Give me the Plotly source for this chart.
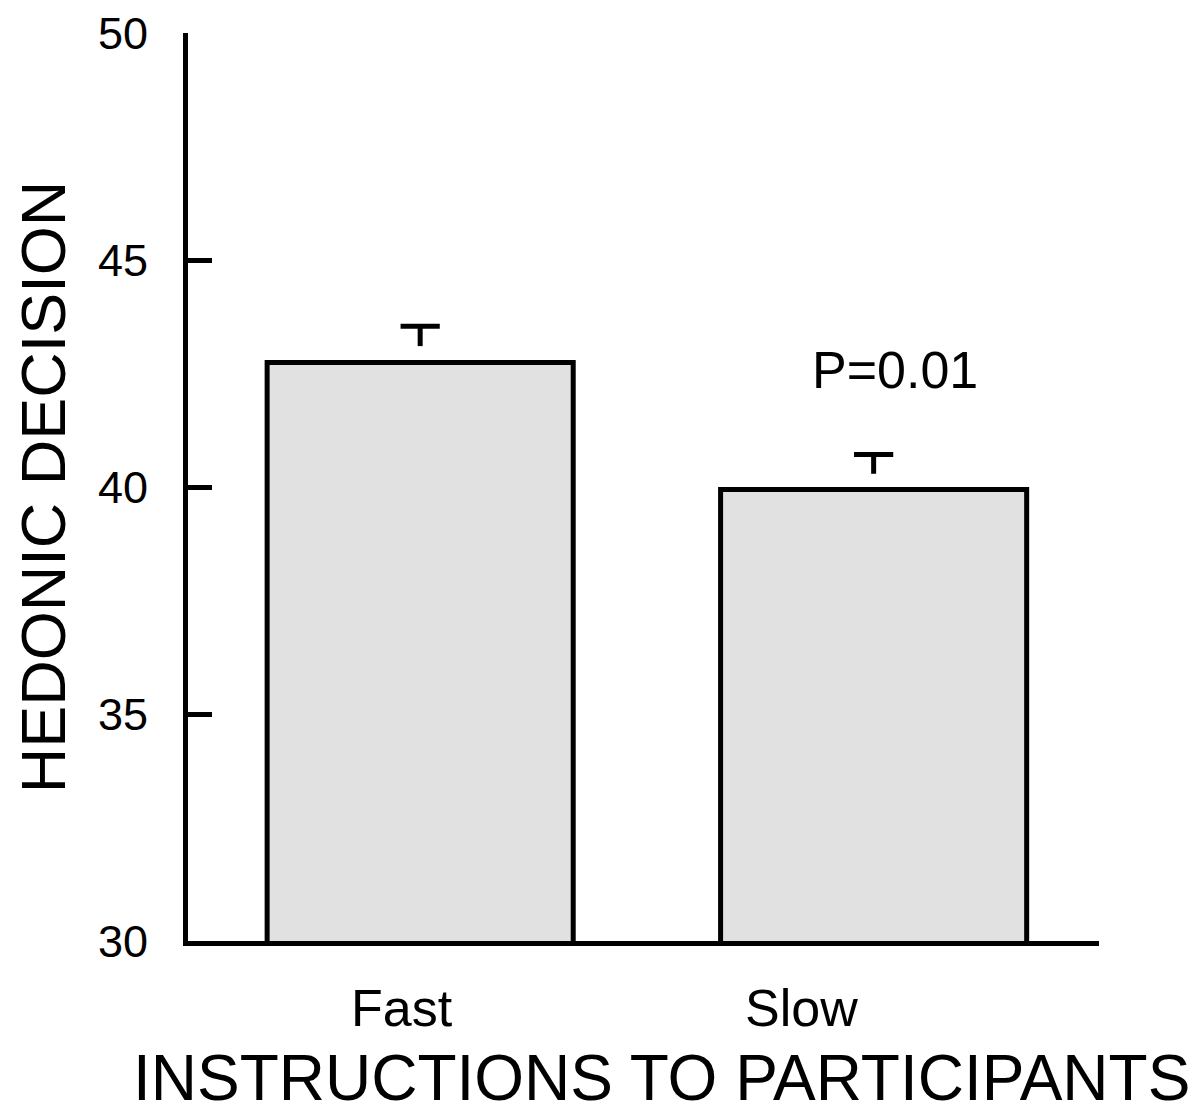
import plotly.graph_objects as go

categories = ["Fast", "Slow"]
means = [42.75, 39.95]
errors = [0.80, 0.77]
p_label = "P=0.01"
y_ticks = [30, 35, 40, 45, 50]
x_title = "INSTRUCTIONS TO PARTICIPANTS"
y_title = "HEDONIC DECISION"

FONT = "Liberation Sans, Arial, sans-serif"
xs = list(range(len(categories)))
label_shift = [-18, -72]  # category labels sit left of bar centres in the original

fig = go.Figure()
fig.add_trace(go.Bar(
    x=xs,
    y=means,
    width=0.675,
    marker=dict(color="#e1e1e1", line=dict(color="black", width=5)),
))

# upper-only error bars (T shape, stem stops short of the bar top)
for x, m, e in zip(xs, means, errors):
    fig.add_trace(go.Scatter(
        x=[x, x], y=[m + e, m + e * 0.45], mode="lines",
        line=dict(color="black", width=5), hoverinfo="skip",
    ))
fig.add_trace(go.Scatter(
    x=xs, y=[m + e for m, e in zip(means, errors)], mode="markers",
    marker=dict(symbol="line-ew", size=28, line=dict(color="black", width=5)),
    hoverinfo="skip",
))

fig.add_annotation(x=1.047, y=42.58, text=p_label, showarrow=False,
                   font=dict(family=FONT, size=52, color="black"), xref="x", yref="y")

for x, c, s in zip(xs, categories, label_shift):
    fig.add_annotation(x=x, y=0, xref="x", yref="paper", text=c, showarrow=False,
                       xshift=s, yanchor="top", yshift=-36,
                       font=dict(family=FONT, size=52, color="black"))

fig.add_annotation(x=0.5, y=0, xref="paper", yref="paper", text=x_title,
                   showarrow=False, xshift=18, yanchor="bottom", yshift=-175,
                   font=dict(family=FONT, size=64, color="black"))

fig.update_layout(
    width=1200, height=1115,
    margin=dict(l=180, r=109, t=25, b=182),
    plot_bgcolor="white", paper_bgcolor="white",
    showlegend=False,
    font=dict(family=FONT, color="black"),
    xaxis=dict(
        range=[-0.512, 1.497],
        tickvals=xs, showticklabels=False,
        showline=True, linecolor="black", linewidth=5,
        ticks="", showgrid=False, zeroline=False, automargin=False,
    ),
    yaxis=dict(
        range=[30, 50.01],
        tickvals=y_ticks,
        showline=True, linecolor="black", linewidth=5,
        ticks="inside", ticklen=24, tickwidth=5, tickcolor="black",
        showgrid=False, zeroline=False, automargin=False,
        tickfont=dict(family=FONT, size=45, color="black"),
        ticklabelstandoff=26,
        title=dict(text=y_title, standoff=16,
                   font=dict(family=FONT, size=63, color="black")),
    ),
)

fig.write_html("out.html")
